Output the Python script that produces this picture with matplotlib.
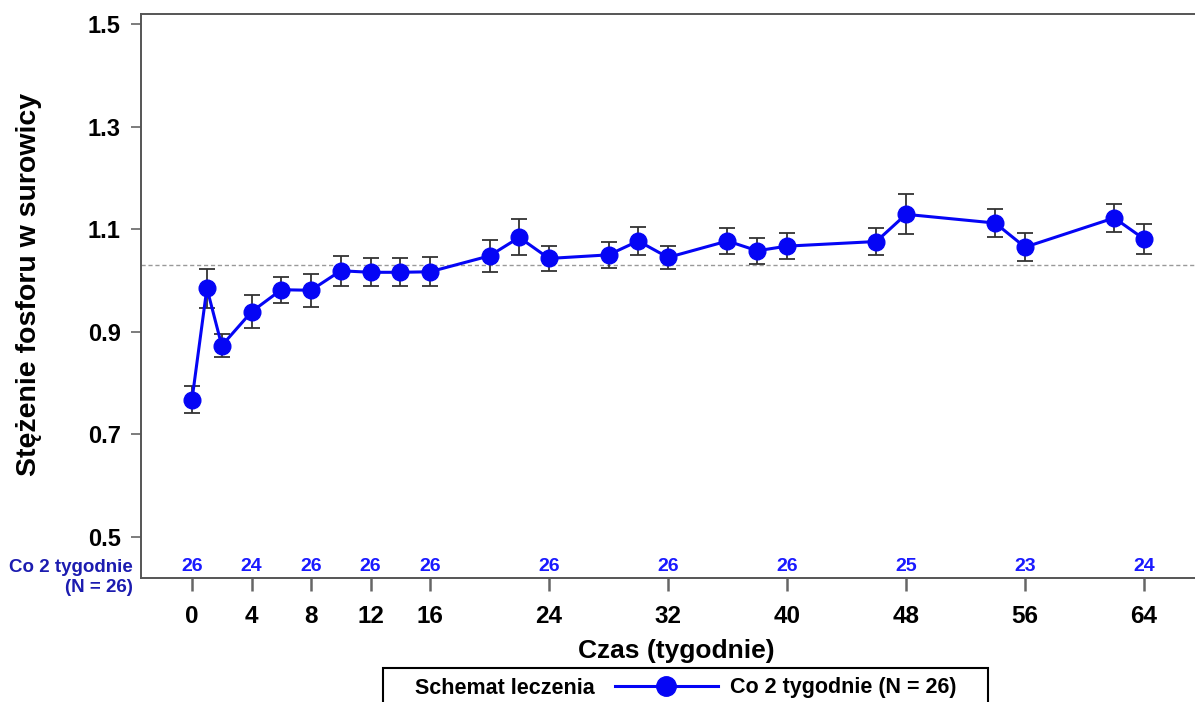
import matplotlib
matplotlib.use('Agg')
import matplotlib.pyplot as plt
from matplotlib.patches import Rectangle
from matplotlib.lines import Line2D
import matplotlib.transforms as mtransforms

plt.rcParams['font.family'] = ['Liberation Sans', 'DejaVu Sans']
plt.rcParams['font.weight'] = 'bold'

# Dane: tydzień, średnia, błąd standardowy
weeks = [0, 1, 2, 4, 6, 8, 10, 12, 14, 16, 20, 22, 24, 28, 30, 32, 36, 38, 40, 46, 48, 54, 56, 62, 64]
means = [0.768, 0.985, 0.873, 0.939, 0.982, 0.981, 1.019, 1.016, 1.016, 1.017,
         1.048, 1.084, 1.043, 1.050, 1.077, 1.045, 1.077, 1.058, 1.067,
         1.076, 1.129, 1.112, 1.065, 1.122, 1.081]
sems = [0.026, 0.038, 0.022, 0.032, 0.025, 0.032, 0.029, 0.027, 0.027, 0.028,
        0.031, 0.035, 0.025, 0.026, 0.028, 0.022, 0.025, 0.025, 0.025,
        0.027, 0.039, 0.027, 0.027, 0.028, 0.029]
ref_line = 1.031

xticks = [0, 4, 8, 12, 16, 24, 32, 40, 48, 56, 64]
n_risk = [26, 24, 26, 26, 26, 26, 26, 26, 25, 23, 24]
yticks = [0.5, 0.7, 0.9, 1.1, 1.3, 1.5]

blue = '#0505f5'

fig = plt.figure(figsize=(11.95, 7.02), dpi=100)
ax = fig.add_axes([141 / 1195, 1 - 578 / 702, 1 - 141 / 1195, (578 - 14) / 702])

ax.axhline(ref_line, color='#999999', linestyle=(0, (3, 2)), linewidth=1.0, zorder=1)
ax.errorbar(weeks, means, yerr=sems, fmt='none', ecolor='#333333', elinewidth=1.3,
            capsize=6, capthick=1.3, zorder=2)
ax.plot(weeks, means, color=blue, linewidth=2.2, marker='o', markersize=12,
        markerfacecolor=blue, markeredgecolor=blue, zorder=3)

ax.set_xlim(-3.43, 67.43)
ax.set_ylim(0.4201, 1.5195)
ax.set_xticks(xticks)
ax.set_xticklabels([str(t) for t in xticks], fontsize=17.5)
ax.set_yticks(yticks)
ax.set_yticklabels([f'{v:.1f}' for v in yticks], fontsize=17)
ax.tick_params(axis='x', length=9.5, width=1.8, color='#666666', pad=10)
ax.tick_params(axis='y', length=7.5, width=1.2, color='#666666', pad=7)

for s in ['left', 'top', 'bottom']:
    ax.spines[s].set_color('#555555')
    ax.spines[s].set_linewidth(1.4)
ax.spines['right'].set_visible(False)

ax.set_ylabel('Stężenie fosforu w surowicy', fontsize=20.5, fontweight='bold')
ax.yaxis.set_label_coords(-0.094, 0.52)
ax.set_xlabel('Czas (tygodnie)', fontsize=19, fontweight='bold')
ax.xaxis.set_label_coords(0.5076, -0.108)

# Liczba pacjentów w ryzyku
trans = mtransforms.blended_transform_factory(ax.transData, ax.transAxes)
for t, n in zip(xticks, n_risk):
    ax.text(t, 0.02, str(n), transform=trans, ha='center', va='center',
            color='#1a1aff', fontsize=14, fontweight='bold')
fig.text(133 / 1195, 1 - 567 / 702, 'Co 2 tygodnie', ha='right', va='center',
         color='#1c1cb0', fontsize=13.5, fontweight='bold')
fig.text(133 / 1195, 1 - 588 / 702, '(N = 26)', ha='right', va='center',
         color='#1c1cb0', fontsize=13.5, fontweight='bold')

# Legenda
fig.patches.append(Rectangle((383 / 1195, -0.02), 605 / 1195, (702 - 668) / 702 + 0.02,
                             transform=fig.transFigure, fill=False, edgecolor='black',
                             linewidth=1.5))
fig.text(415 / 1195, 1 - 688 / 702, 'Schemat leczenia', ha='left', va='center',
         fontsize=15.5, fontweight='bold')
fig.lines.append(Line2D([615 / 1195, 718 / 1195], [1 - 686 / 702, 1 - 686 / 702],
                        transform=fig.transFigure, color=blue, linewidth=2.2))
fig.lines.append(Line2D([666 / 1195], [1 - 686 / 702], transform=fig.transFigure,
                        color=blue, marker='o', markersize=14, linestyle='none'))
fig.text(730 / 1195, 1 - 688 / 702, 'Co 2 tygodnie (N = 26)', ha='left', va='center',
         fontsize=15.5, fontweight='bold')

fig.savefig('out.png', dpi=100)
